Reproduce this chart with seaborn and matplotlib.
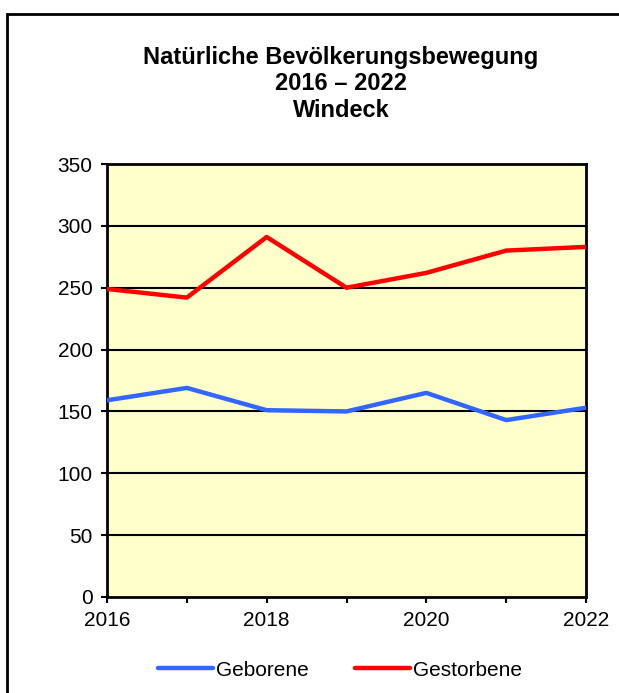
import pandas as pd
import numpy as np
import seaborn as sns
import matplotlib.pyplot as plt
from matplotlib.patches import Rectangle

# Data
years = [2016, 2017, 2018, 2019, 2020, 2021, 2022]
geborene = [159, 169, 151, 150, 165, 143, 153]
gestorbene = [249, 242, 291, 250, 262, 280, 283]
series_names = ["Geborene", "Gestorbene"]
y_ticks = [0, 50, 100, 150, 200, 250, 300, 350]
x_ticks = [2016, 2018, 2020, 2022]

df = pd.DataFrame({
    "Jahr": years * 2,
    "Wert": geborene + gestorbene,
    "Serie": [series_names[0]] * len(years) + [series_names[1]] * len(years),
})

sns.set_theme(style="white")
plt.rcParams["font.family"] = ["Liberation Sans", "DejaVu Sans"]
plt.rcParams["text.color"] = "black"
plt.rcParams["xtick.color"] = "black"
plt.rcParams["ytick.color"] = "black"

fig = plt.figure(figsize=(6.19, 6.93), dpi=100)
ax = fig.add_axes([107 / 619, 1 - 597 / 693, (586 - 107) / 619, (597 - 164) / 693])
ax.set_facecolor("#FFFFCC")

sns.lineplot(data=df, x="Jahr", y="Wert", hue="Serie",
             palette={"Geborene": "#3366FF", "Gestorbene": "#FF0000"},
             linewidth=3.2, ax=ax, legend=False, zorder=3)

ax.set_xlim(2016, 2022)
ax.set_ylim(0, 350)
ax.set_yticks(y_ticks)
ax.set_xticks(x_ticks)
ax.set_xticks(years, minor=True)
ax.set_xlabel("")
ax.set_ylabel("")
ax.tick_params(axis="both", which="both", direction="out", length=4.3, width=1.5,
               color="black", labelcolor="black", labelsize=15,
               bottom=True, left=True)
ax.tick_params(axis="x", which="major", pad=6)
ax.tick_params(axis="y", pad=6)

for y in y_ticks[1:-1]:
    ax.axhline(y, color="black", linewidth=1.5, zorder=2)
for side in ax.spines.values():
    side.set_color("black")
    side.set_linewidth(2)

# title and legend are centred on x ~ 341 px in the original
fig.text(341 / 619, 1 - 84 / 693,
         "Natürliche Bevölkerungsbewegung\n2016 – 2022\nWindeck",
         ha="center", va="center", fontsize=17, fontweight="bold",
         linespacing=1.22)

handles = [plt.Line2D([], [], color="#3366FF", linewidth=3.2),
           plt.Line2D([], [], color="#FF0000", linewidth=3.2)]
fig.legend(handles, series_names, loc="center",
           bbox_to_anchor=(340 / 619, 1 - 670 / 693),
           ncol=2, frameon=False, fontsize=15, handlelength=2.64, handletextpad=0.15,
           columnspacing=2.2)

# outer frame
fig.patches.append(Rectangle((7 / 619, -0.1), 1.2, 1 - 14 / 693 + 0.1,
                             transform=fig.transFigure, fill=False,
                             edgecolor="black", linewidth=2, zorder=0))

fig.savefig("out.png", dpi=100)
